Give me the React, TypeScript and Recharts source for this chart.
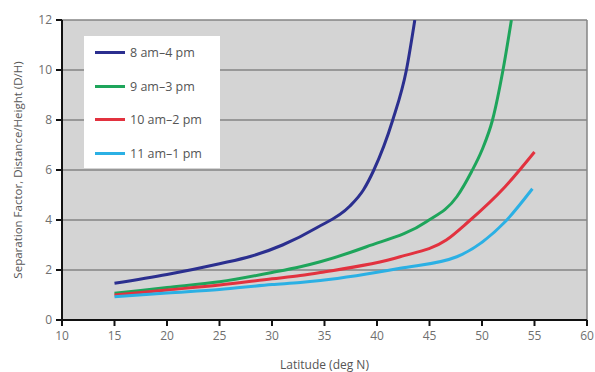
import React from "react";
import {
  LineChart,
  Line,
  XAxis,
  YAxis,
  CartesianGrid,
  Legend,
  ReferenceLine,
} from "recharts";

const xTicks = [10, 15, 20, 25, 30, 35, 40, 45, 50, 55, 60];
const yTicks = [0, 2, 4, 6, 8, 10, 12];

// 8 am-4 pm
const lat8to4 = [15, 20, 25, 28, 31, 34.3, 37.4, 38.7, 39.7, 41.5, 42.8, 43.6];
const sep8to4 = [1.47, 1.82, 2.25, 2.55, 3.0, 3.7, 4.55, 5.2, 6.0, 8, 10, 12];

// 9 am-3 pm
const lat9to3 = [15, 20, 25, 30, 32.7, 34.6, 39, 44.7, 47.6, 49, 50, 51, 52, 52.8];
const sep9to3 = [1.07, 1.3, 1.53, 1.9, 2.13, 2.33, 2.93, 3.93, 4.93, 5.93, 6.8, 8, 10, 12];

// 10 am-2 pm
const lat10to2 = [15, 20, 25, 30, 32.7, 34.6, 42.2, 46.6, 48.7, 52.2, 55];
const sep10to2 = [1.0, 1.2, 1.4, 1.65, 1.78, 1.9, 2.53, 3.2, 3.93, 5.33, 6.72];

// 11 am-1 pm
const lat11to1 = [15, 20, 25, 30, 32.7, 34.6, 42.2, 47.6, 52.2, 54.8];
const sep11to1 = [0.93, 1.08, 1.22, 1.42, 1.5, 1.58, 2.07, 2.53, 3.93, 5.25];

const series = [
  { name: "8 am\u20134 pm", lat: lat8to4, sep: sep8to4, color: "#2b2f8f" },
  { name: "9 am\u20133 pm", lat: lat9to3, sep: sep9to3, color: "#1ea55b" },
  { name: "10 am\u20132 pm", lat: lat10to2, sep: sep10to2, color: "#e2323f" },
  { name: "11 am\u20131 pm", lat: lat11to1, sep: sep11to1, color: "#2bb0e4" },
];

const toPoints = (lat: number[], sep: number[]) =>
  lat.map((x, i) => ({ x, y: sep[i] }));

const font = "'Open Sans', 'Liberation Sans', sans-serif";

const renderLegend = () => (
  <div
    style={{
      background: "#ffffff",
      width: 136,
      height: 132,
      boxSizing: "border-box",
      fontFamily: font,
    }}
  >
    {series.map((s) => (
      <div
        key={s.name}
        style={{ display: "flex", alignItems: "center", height: 33.5, marginLeft: 11 }}
      >
        <div style={{ width: 30, height: 3, background: s.color, marginRight: 5 }} />
        <span style={{ fontSize: 12.5, color: "#555" }}>{s.name}</span>
      </div>
    ))}
  </div>
);

const App = () => {
  return (
    <div style={{ position: "absolute", left: 0, top: 0, background: "#fff" }}>
      <LineChart
        width={595}
        height={372}
        margin={{ top: 20, right: 8, bottom: 0, left: 0 }}
      >
        <CartesianGrid
          vertical={false}
          fill="#d4d4d4"
          stroke="#858585"
          strokeWidth={1.5}
          horizontalValues={[2, 4, 6, 8, 10, 12]}
        />
        <ReferenceLine x={60} stroke="#858585" strokeWidth={1.5} />
        <XAxis
          type="number"
          dataKey="x"
          domain={[10, 60]}
          ticks={xTicks}
          allowDataOverflow
          height={52}
          stroke="#111"
          strokeWidth={2}
          tickSize={6}
          tickMargin={5}
          tick={{ fill: "#6f6f6f", fontSize: 12, fontFamily: font }}
          label={{
            value: "Latitude (deg N)",
            position: "insideBottom",
            offset: 3,
            style: { fill: "#555", fontSize: 12, fontFamily: font },
          }}
        />
        <YAxis
          type="number"
          domain={[0, 12]}
          ticks={yTicks}
          allowDataOverflow
          width={62}
          stroke="#111"
          strokeWidth={2}
          tickSize={6}
          tickMargin={4}
          tick={{ fill: "#6f6f6f", fontSize: 12, fontFamily: font }}
          label={{
            value: "Separation Factor, Distance/Height (D/H)",
            angle: -90,
            position: "insideLeft",
            offset: 18,
            style: { fill: "#555", fontSize: 11.5, fontFamily: font, textAnchor: "middle" },
          }}
        />
        <Legend
          layout="vertical"
          align="center"
          verticalAlign="middle"
          content={renderLegend}
          wrapperStyle={{ left: 84, top: 36, width: 136, height: 132 }}
        />
        {series.map((s) => (
          <Line
            key={s.name}
            data={toPoints(s.lat, s.sep)}
            dataKey="y"
            name={s.name}
            type="monotone"
            stroke={s.color}
            strokeWidth={3}
            dot={false}
            isAnimationActive={false}
          />
        ))}
      </LineChart>
    </div>
  );
};

export default App;
